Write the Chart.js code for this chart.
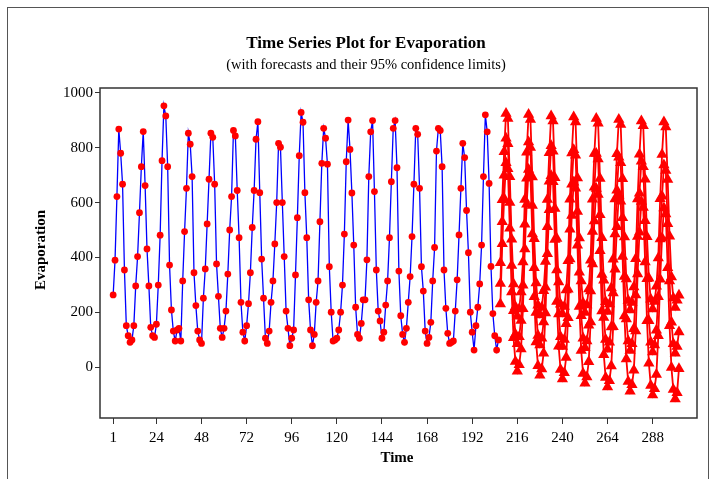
<!DOCTYPE html>
<html>
<head>
<meta charset="utf-8">
<title>Time Series Plot for Evaporation</title>
<script src="https://cdn.jsdelivr.net/npm/chart.js@4.4.1/dist/chart.umd.min.js"></script>
<style>
  html, body { margin: 0; padding: 0; background: #fff; }
  #wrap { position: relative; width: 713px; height: 479px; overflow: hidden; }
  #frame { position: absolute; left: 7px; top: 7px; width: 702px; height: 520px; border: 1px solid #555; box-sizing: border-box; }
  canvas { position: absolute; left: 0; top: 0; }
</style>
</head>
<body>
<div id="wrap">
  <div id="frame"></div>
  <canvas id="tsplot" width="713" height="479"></canvas>
</div>
<script>
var evaporation = [
  263, 390, 622, 868, 780, 667, 354, 151, 114, 90, 99, 151,
  296, 403, 563, 731, 859, 662, 431, 296, 145, 114, 108, 156,
  299, 481, 753, 953, 916, 731, 372, 208, 131, 95, 135, 141, 95,
  314, 494, 652, 853, 813, 695, 344, 224, 131, 99, 86,
  251, 358, 522, 685, 853, 838, 667, 376, 258, 141, 108, 141, 204,
  339, 500, 622, 863, 843, 644, 472, 236, 127, 95, 151, 231,
  344, 509, 644, 831, 895, 636, 394, 251, 105, 86, 131, 236,
  314, 449, 600, 816, 802, 600, 403, 204, 141, 78, 105, 135,
  336, 545, 771, 929, 893, 636, 472, 245, 135, 78, 119, 236,
  314, 530, 743, 871, 835, 740, 366, 200, 95, 99, 105, 135, 200,
  299, 485, 749, 901, 794, 635, 445, 218, 119, 105, 159, 245,
  245, 391, 695, 858, 899, 640, 354, 204, 168, 105, 127, 226,
  314, 472, 676, 871, 899, 727, 350, 187, 119, 90, 141, 236,
  330, 476, 667, 871, 849, 652, 366, 277, 131, 86, 108, 163,
  314, 436, 788, 871, 863, 731, 354, 214, 123, 86, 90, 95, 204,
  318, 482, 652, 816, 764, 571, 417, 200, 127, 62, 151, 218,
  303, 445, 695, 920, 858, 670, 367, 195, 114, 62, 99
];

// forecasts start right after the last observation
var forecastStart = 207;
var forecast = [
  305, 530, 700, 835, 815, 600, 370, 205, 120, 85, 110, 170,
  298, 521, 689, 821, 801, 589, 362, 199, 115, 80, 105, 164,
  291, 512, 678, 807, 787, 578, 354, 193, 110, 75, 100, 158,
  284, 503, 667, 793, 773, 567, 346, 187, 105, 70, 95, 152,
  277, 494, 656, 779, 759, 556, 338, 181, 100, 65, 90, 146,
  270, 485, 645, 765, 745, 545, 330, 175, 95, 60, 85, 140,
  263, 476, 634, 751, 731, 534, 322, 169, 90, 55, 80, 134,
  256, 467, 623, 737, 717, 523, 314, 163, 85, 50, 75, 128
];
var upper95 = [
  380, 610, 785, 925, 907, 694, 466, 303, 220, 185, 212, 274,
  383, 611, 784, 921, 903, 693, 468, 307, 225, 190, 217, 278,
  385, 611, 782, 916, 898, 691, 469, 310, 229, 194, 221, 281,
  388, 612, 781, 912, 894, 690, 471, 314, 234, 199, 226, 285,
  390, 612, 779, 907, 889, 688, 472, 317, 238, 203, 230, 288,
  393, 613, 778, 903, 885, 687, 474, 321, 243, 208, 235, 292,
  395, 613, 776, 898, 880, 685, 475, 324, 247, 212, 239, 295,
  398, 614, 775, 894, 876, 684, 477, 328, 252, 217, 244, 262
];
var lower95 = [
  230, 450, 615, 745, 723, 506, 274, 107, 20, -15, 8, 66,
  213, 431, 594, 721, 699, 485, 256, 91, 5, -30, -7, 50,
  197, 413, 574, 698, 676, 465, 239, 76, -9, -44, -21, 35,
  180, 394, 553, 674, 652, 444, 221, 60, -24, -59, -36, 19,
  164, 376, 533, 651, 629, 424, 204, 45, -38, -73, -50, 4,
  147, 357, 512, 627, 605, 403, 186, 29, -53, -88, -65, -12,
  131, 339, 492, 604, 582, 383, 169, 14, -67, -102, -79, -27,
  114, 320, 471, 580, 558, 362, 151, -2, -82, -117, -94, -6
];

var timeTicks = [1, 24, 48, 72, 96, 120, 144, 168, 192, 216, 240, 264, 288];
var evapTicks = [0, 200, 400, 600, 800, 1000];

function toPoints(values, start) {
  return values.map(function (v, i) { return { x: start + i, y: v }; });
}

function redSeries(values) {
  return {
    data: toPoints(values, forecastStart),
    borderColor: '#ff0000',
    backgroundColor: '#ff0000',
    borderWidth: 1.8,
    pointStyle: 'triangle',
    pointRadius: 6.5,
    pointBorderWidth: 0,
    tension: 0
  };
}

var serif = '"Liberation Serif", "Times New Roman", serif';

var framePlugin = {
  id: 'framePlugin',
  afterDraw: function (chart) {
    var ctx = chart.ctx, a = chart.chartArea;
    ctx.save();
    ctx.strokeStyle = '#333';
    ctx.lineWidth = 1.5;
    ctx.strokeRect(a.left, a.top, a.right - a.left, a.bottom - a.top);

    ctx.fillStyle = '#000';
    ctx.textAlign = 'center';
    ctx.textBaseline = 'middle';
    ctx.font = 'bold 17px ' + serif;
    ctx.fillText('Time Series Plot for Evaporation', 366, 44);
    ctx.font = '14.5px ' + serif;
    ctx.fillText('(with forecasts and their 95% confidence limits)', 366, 65);

    ctx.font = 'bold 15px ' + serif;
    ctx.fillText('Time', 397, 458);
    ctx.translate(41, 250);
    ctx.rotate(-Math.PI / 2);
    ctx.fillText('Evaporation', 0, 0);
    ctx.restore();
  }
};

new Chart(document.getElementById('tsplot'), {
  type: 'line',
  data: {
    datasets: [
      {
        data: toPoints(evaporation, 1),
        borderColor: '#0000ff',
        backgroundColor: '#ff0000',
        borderWidth: 1.3,
        pointStyle: 'circle',
        pointRadius: 3.4,
        pointBorderWidth: 0,
        tension: 0
      },
      redSeries(lower95),
      redSeries(forecast),
      redSeries(upper95)
    ]
  },
  options: {
    responsive: false,
    animation: false,
    devicePixelRatio: 1,
    layout: { padding: { left: 0, top: 88, right: 16, bottom: 0 } },
    plugins: {
      legend: { display: false },
      title: { display: false },
      tooltip: { enabled: false }
    },
    scales: {
      x: {
        type: 'linear',
        min: -6,
        max: 311.6,
        afterBuildTicks: function (s) { s.ticks = timeTicks.map(function (v) { return { value: v }; }); },
        afterFit: function (s) { s.height = 61; },
        border: { display: false },
        grid: { drawOnChartArea: false, drawTicks: true, tickLength: 6, color: '#333', lineWidth: 1 },
        ticks: { color: '#000', padding: 5, maxRotation: 0, autoSkip: false, font: { family: serif, size: 15 } }
      },
      y: {
        type: 'linear',
        min: -186,
        max: 1018,
        afterBuildTicks: function (s) { s.ticks = evapTicks.map(function (v) { return { value: v }; }); },
        afterFit: function (s) { s.width = 100; },
        border: { display: false },
        grid: { drawOnChartArea: false, drawTicks: true, tickLength: 5, color: '#333', lineWidth: 1 },
        ticks: {
          color: '#000',
          padding: 2,
          font: { family: serif, size: 15 },
          callback: function (v) { return String(v); }
        }
      }
    }
  },
  plugins: [framePlugin]
});
</script>
</body>
</html>
